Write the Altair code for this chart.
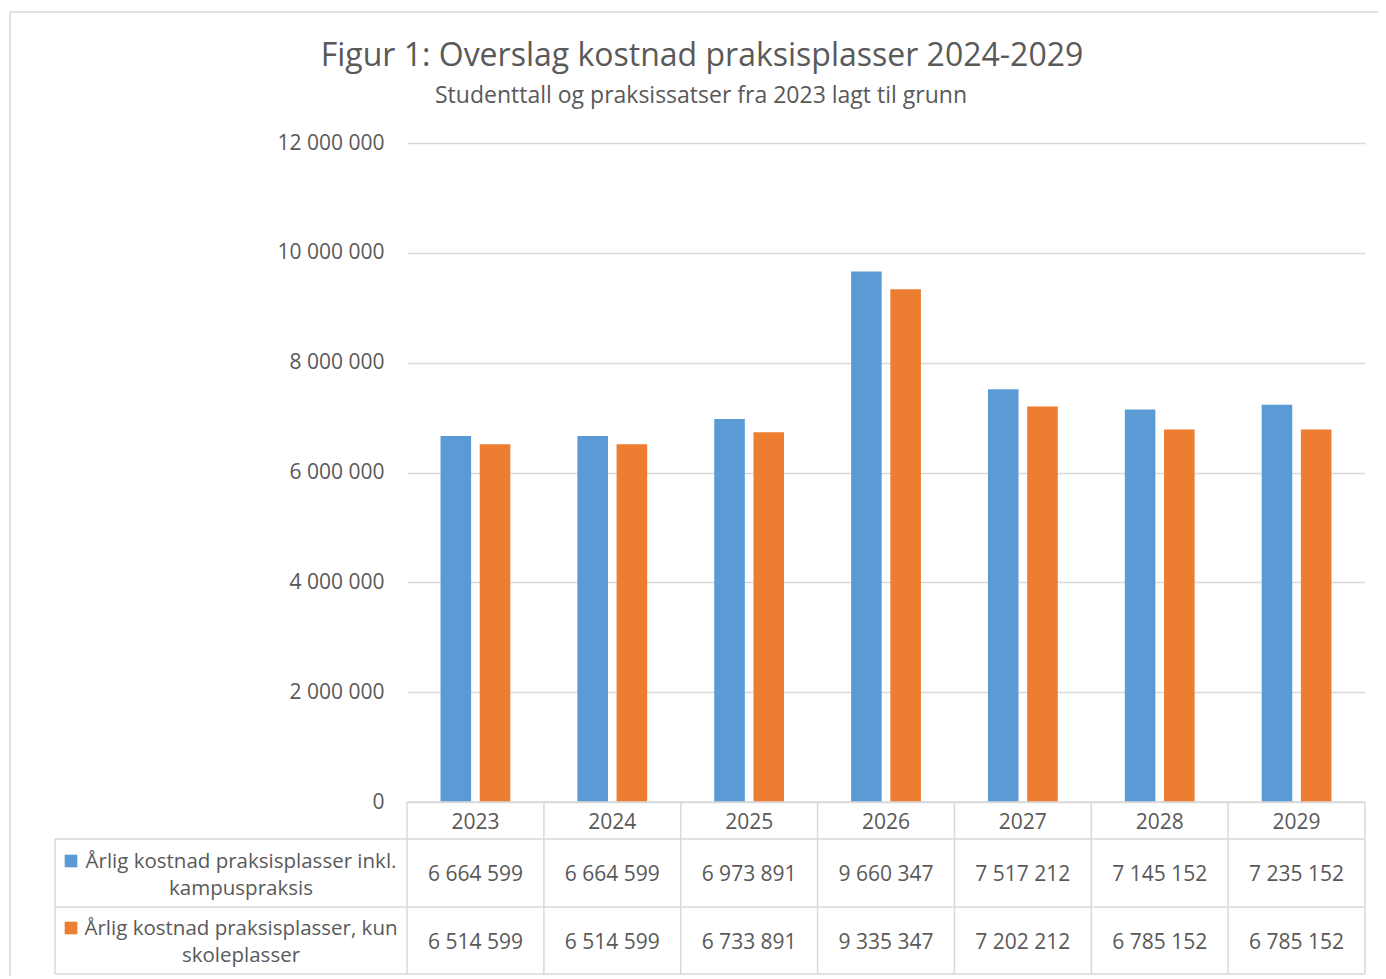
import altair as alt
import pandas as pd

# ---------------- data ----------------
years = ["2023", "2024", "2025", "2026", "2027", "2028", "2029"]
incl_kampus = [6664599, 6664599, 6973891, 9660347, 7517212, 7145152, 7235152]
kun_skole = [6514599, 6514599, 6733891, 9335347, 7202212, 6785152, 6785152]
series_names = [
    "Årlig kostnad praksisplasser inkl. kampuspraksis",
    "Årlig kostnad praksisplasser, kun skoleplasser",
]
series_lines = [
    ["Årlig kostnad praksisplasser inkl.", "kampuspraksis"],
    ["Årlig kostnad praksisplasser, kun", "skoleplasser"],
]
series_colors = ["#5B9BD5", "#ED7D31"]
y_ticks = [0, 2000000, 4000000, 6000000, 8000000, 10000000, 12000000]
title_text = "Figur 1: Overslag kostnad praksisplasser 2024-2029"
subtitle_text = "Studenttall og praksissatser fra 2023 lagt til grunn"

# ---------------- layout / style ----------------
W, H = 958, 659
OX, OY = 407, 143          # page position of the plot origin
TEXT = "#595959"
GRID = "#D9D9D9"
FONT = "Open Sans"
FS = 21
STEP = W / len(years)

rows = []
for name, vals in zip(series_names, [incl_kampus, kun_skole]):
    for y, v in zip(years, vals):
        rows.append({"year": y, "series": name, "value": v,
                     "label": f"{v:,}".replace(",", " ")})
df = pd.DataFrame(rows)

base = alt.Chart(df)
x_enc = alt.X("year:N", sort=years,
              scale=alt.Scale(paddingInner=0.49, paddingOuter=0.245),
              axis=None)

bars = base.mark_bar().encode(
    x=x_enc,
    xOffset=alt.XOffset("series:N", sort=series_names,
                        scale=alt.Scale(paddingInner=0.22)),
    y=alt.Y("value:Q",
            scale=alt.Scale(domain=[0, 12000000], nice=False),
            axis=alt.Axis(values=y_ticks, title=None, domain=False, ticks=False,
                          grid=True, gridColor=GRID, gridWidth=1.5,
                          labelFont=FONT, labelFontSize=FS, labelColor=TEXT,
                          labelPadding=23,
                          labelExpr="replace(format(datum.value, ','), regexp(',', 'g'), ' ')")),
    color=alt.Color("series:N", scale=alt.Scale(domain=series_names, range=series_colors),
                    legend=None),
)

layers = [bars]

one = pd.DataFrame({"k": [0]})


def rule(x1, x2, y1, y2):
    return alt.Chart(one).mark_rule(color=GRID, strokeWidth=1.5).encode(
        x=alt.value(x1), x2=alt.value(x2), y=alt.value(y1), y2=alt.value(y2))


def label(txt, px, py, size, baseline="middle"):
    return alt.Chart(one).mark_text(
        font=FONT, fontSize=size, color=TEXT, baseline=baseline, align="center"
    ).encode(x=alt.value(px - OX), y=alt.value(py - OY), text=alt.value(txt))


# table grid lines
ROW1_TOP = 839 - OY
ROW2_TOP = 907 - OY
TBL_BOT = 974 - OY
LEFT = 55 - OX
for yy in [ROW1_TOP, ROW2_TOP, TBL_BOT]:
    layers.append(rule(LEFT, W, yy, yy))
layers.append(rule(0, W, H, H))
for k in range(len(years) + 1):
    layers.append(rule(k * STEP, k * STEP, H, TBL_BOT))
layers.append(rule(LEFT, LEFT, ROW1_TOP, TBL_BOT))

# outer frame
layers.append(rule(10 - OX, 1400, 12 - OY, 12 - OY))
layers.append(rule(10 - OX, 10 - OX, 12 - OY, 1000))

# title and subtitle
layers.append(label(title_text, 702, 66, 32, baseline="alphabetic"))
layers.append(label(subtitle_text, 701, 103, 23, baseline="alphabetic"))

# year row
layers.append(
    base.transform_filter(alt.datum.series == series_names[0]).mark_text(
        font=FONT, fontSize=FS, color=TEXT, baseline="middle", align="center"
    ).encode(x=x_enc, y=alt.value(823 - OY), text="year:N")
)

# values rows + left labels
row_centers = [875, 943]
line_y = [[861, 888], [928, 955]]
for name, color, lines, rc, ly in zip(series_names, series_colors, series_lines,
                                      row_centers, line_y):
    layers.append(
        base.transform_filter(alt.datum.series == name).mark_text(
            font=FONT, fontSize=FS, color=TEXT, baseline="middle", align="center"
        ).encode(x=x_enc, y=alt.value(rc - OY), text="label:N")
    )
    for txt, yy in zip(lines, ly):
        layers.append(label(txt, 241, yy + 1, 20.5))
    layers.append(
        alt.Chart(one).mark_square(size=160, opacity=1).encode(
            x=alt.value(71 - OX), y=alt.value(ly[0] - OY), color=alt.value(color))
    )

chart = alt.layer(*layers).properties(
    width=W,
    height=H,
    autosize=alt.AutoSizeParams(type="none"),
    padding={"left": OX - 8, "top": OY - 8, "right": 13, "bottom": 174},
).configure_view(stroke=None)

chart.save("out.html", embed_options={"renderer": "svg", "actions": False})
